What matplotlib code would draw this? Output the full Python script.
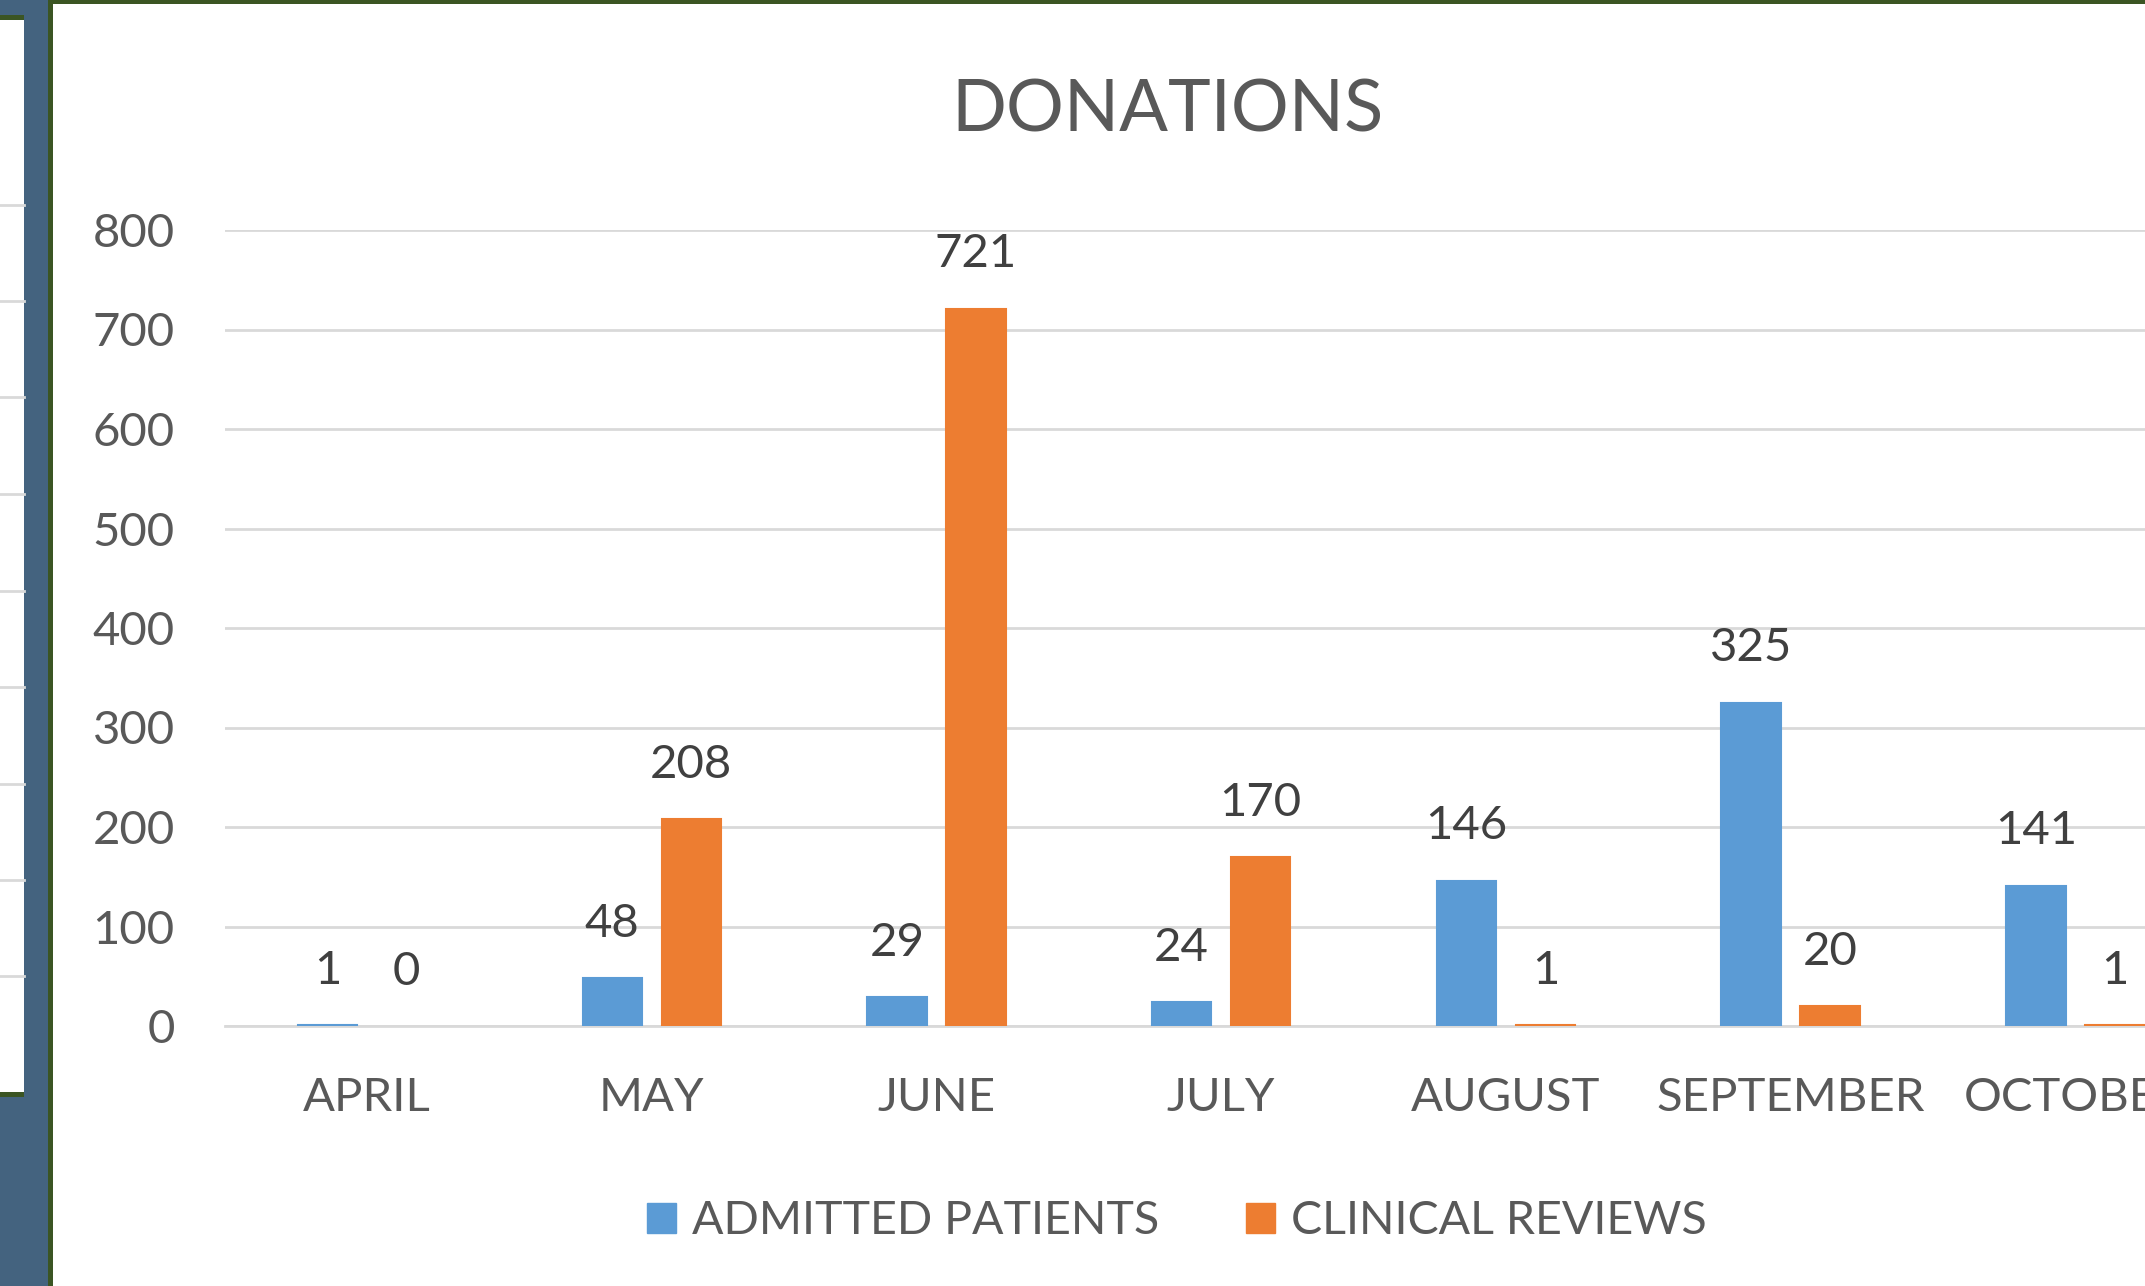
import matplotlib
matplotlib.use("Agg")
import matplotlib.pyplot as plt
from matplotlib.patches import Rectangle
from matplotlib.lines import Line2D
import numpy as np

plt.rcParams['font.family'] = ['Lato', 'DejaVu Sans']

months = ["APRIL", "MAY", "JUNE", "JULY", "AUGUST", "SEPTEMBER", "OCTOBER"]
admitted = [1, 48, 29, 24, 146, 325, 141]
clinical = [0, 208, 721, 170, 1, 20, 1]
yticks = [0, 100, 200, 300, 400, 500, 600, 700, 800]
title = "DONATIONS"
series_names = ["ADMITTED PATIENTS", "CLINICAL REVIEWS"]

W, H = 2145, 1286
fig = plt.figure(figsize=(W / 100, H / 100), dpi=100)
fig.patch.set_facecolor("white")

def fx(px):
    return px / W

def fy(py):
    return 1 - py / H

BLUE_BG = "#44637f"
GREEN = "#3b5523"
TXT = "#595959"
GRID = "#d9d9d9"
C_BLUE = "#5b9bd5"
C_ORANGE = "#ed7d31"

# --- background decorations (neighbouring sheet objects) ---
fig.patches.append(Rectangle((0, 0), fx(48), 1, transform=fig.transFigure,
                             facecolor=BLUE_BG, edgecolor="none", zorder=0))
fig.patches.append(Rectangle((0, fy(1097)), fx(24), fy(15) - fy(1097),
                             transform=fig.transFigure, facecolor=GREEN,
                             edgecolor="none", zorder=1))
fig.patches.append(Rectangle((0, fy(1092)), fx(24), fy(20) - fy(1092),
                             transform=fig.transFigure, facecolor="white",
                             edgecolor="none", zorder=2))
for gy in [205, 301, 397, 494, 591, 687, 784, 880, 976]:
    fig.lines.append(Line2D([0, fx(24)], [fy(gy), fy(gy)], transform=fig.transFigure,
                            color=GRID, lw=2.0, zorder=3))
# chart border
fig.patches.append(Rectangle((fx(48), 0), fx(5), 1, transform=fig.transFigure,
                             facecolor=GREEN, edgecolor="none", zorder=4))
fig.patches.append(Rectangle((fx(48), fy(4)), 1, fy(0) - fy(4), transform=fig.transFigure,
                             facecolor=GREEN, edgecolor="none", zorder=4))

# --- axes ---
cat_w = 284.7
left_px = 224.7
ax = fig.add_axes([fx(left_px), fy(1026), fx(cat_w * len(months)), (1026 - 230) / H])
ax.set_facecolor("none")

x = np.arange(len(months))
bw = 59.5 / cat_w
off = (61 + 18) / 2 / cat_w
b1 = ax.bar(x - off, admitted, width=bw, color=C_BLUE, edgecolor=C_BLUE, linewidth=1.5,
            label=series_names[0], zorder=3)
b2 = ax.bar(x + off, clinical, width=bw, color=C_ORANGE, edgecolor=C_ORANGE, linewidth=1.5,
            label=series_names[1], zorder=3)
for r, v in zip(b2.patches, clinical):
    if v == 0:
        r.set_linewidth(0)

fs = 34
ax.bar_label(b1, padding=24, fontsize=fs, color="#404040")
ax.bar_label(b2, padding=24, fontsize=fs, color="#404040")

ax.set_xlim(-0.5, len(months) - 0.5)
ax.set_ylim(0, 800)
ax.set_yticks(yticks)
ax.set_xticks(x)
ax.set_xticklabels(months)
ax.yaxis.grid(True, color=GRID, lw=2.0, zorder=0)
ax.set_axisbelow(True)
for s in ["top", "right", "left"]:
    ax.spines[s].set_visible(False)
ax.spines["bottom"].set_color(GRID)
ax.spines["bottom"].set_linewidth(2.0)
ax.spines["bottom"].set_zorder(2)
ax.tick_params(axis="both", length=0, labelsize=fs, labelcolor=TXT)
ax.tick_params(axis="y", pad=36)
ax.tick_params(axis="x", pad=37)

fig.text(fx(1167), fy(131), title, ha="center", va="baseline", fontsize=52, color=TXT)

handles = [Rectangle((0, 0), 1, 1, color=C_BLUE), Rectangle((0, 0), 1, 1, color=C_ORANGE)]
fig.legend(handles, series_names, loc="center", bbox_to_anchor=(fx(1177), fy(1221)),
           ncol=2, frameon=False, fontsize=33.5, labelcolor=TXT,
           handlelength=0.62, handleheight=0.62, handletextpad=0.35,
           columnspacing=1.85, borderpad=0)

fig.savefig("out.png", dpi=100, facecolor="white")
